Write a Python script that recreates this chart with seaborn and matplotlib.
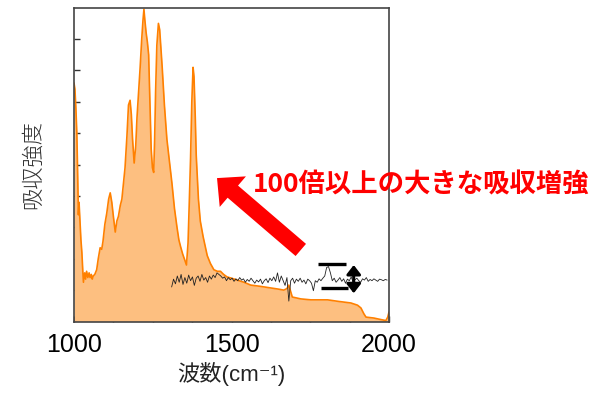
import numpy as np
import pandas as pd
import matplotlib
matplotlib.use("Agg")
import matplotlib.pyplot as plt
import seaborn as sns

# ---- data ----
spec_x = [1000, 1003, 1006, 1009, 1012, 1014, 1016, 1019, 1022, 1025, 1028, 1030,
          1034, 1037, 1040, 1044, 1048, 1051, 1055, 1058, 1061, 1066, 1072, 1077,
          1083, 1088, 1092, 1098, 1104, 1110, 1115, 1120, 1125, 1131, 1136, 1141,
          1147, 1152, 1157, 1162, 1168, 1173, 1178, 1182, 1186, 1191, 1196, 1200,
          1205, 1210, 1215, 1219, 1222, 1225, 1229, 1233, 1237, 1241, 1245, 1249,
          1253, 1256, 1259, 1263, 1268, 1272, 1276, 1280, 1287, 1295, 1303, 1311,
          1319, 1327, 1333, 1338, 1345, 1352, 1357, 1362, 1366, 1370, 1374, 1378,
          1381, 1385, 1388, 1391, 1395, 1401, 1410, 1423, 1433, 1444, 1455, 1465,
          1475, 1486, 1500, 1518, 1540, 1561, 1592, 1624, 1650, 1666, 1676, 1682,
          1688, 1693, 1720, 1752, 1780, 1805, 1840, 1879, 1900, 1911, 1920, 1927,
          1952, 1975, 1990, 1996, 2000]
spec_y = [7.6, 7.4, 6.8, 6.0, 4.5, 3.4, 3.8, 3.2, 2.6, 2.2, 1.6, 1.25,
          1.55, 1.35, 1.6, 1.4, 1.55, 1.4, 1.5, 1.35, 1.45, 1.5, 1.65, 2.0,
          2.35, 2.3, 2.55, 3.1, 3.45, 3.9, 4.1, 3.8, 3.35, 2.85, 3.2, 3.35,
          3.7, 3.9, 4.4, 4.9, 5.9, 6.9, 7.05, 6.6, 5.8, 5.05, 5.6, 6.5,
          7.3, 8.1, 9.0, 9.6, 9.95, 9.6, 9.2, 8.9, 8.5, 7.0, 5.5, 4.9,
          4.75, 5.8, 7.3, 8.8, 9.5, 9.3, 8.7, 8.1, 6.9, 5.8, 5.1, 4.4,
          3.6, 3.0, 2.6, 2.4, 2.15, 1.95, 1.8, 2.5, 3.8, 5.2, 7.0, 8.1,
          7.8, 6.5, 5.3, 4.7, 3.9, 3.2, 2.7, 2.1, 1.85, 1.65, 1.6, 1.6,
          1.5, 1.42, 1.38, 1.32, 1.25, 1.16, 1.12, 1.07, 1.03, 1.0, 1.05, 1.16,
          0.95, 0.78, 0.72, 0.69, 0.69, 0.69, 0.64, 0.59, 0.52, 0.43, 0.25, 0.14,
          0.11, 0.06, 0.03, 0.14, 0.3]

noise_start = 1310
noise_step = 6
noise_y = [1.10, 1.35, 1.20, 1.45, 1.25, 1.50, 1.18, 1.40, 1.22, 1.48, 1.30, 1.42, 1.15,
           1.38, 1.45, 1.28, 1.50, 1.32, 1.40, 1.25, 1.45, 1.35, 1.48, 1.40, 1.55, 1.50,
           1.45, 1.38, 1.42, 1.30, 1.40, 1.33, 1.38, 1.28, 1.36, 1.30, 1.40, 1.32, 1.36,
           1.25, 1.34, 1.28, 1.38, 1.30, 1.22, 1.32, 1.26, 1.35, 1.20, 1.30, 1.36, 1.24,
           1.38, 1.30, 1.42, 1.28,
           1.55, 1.25, 1.45, 1.30, 1.15, 1.40, 0.65, 1.30, 1.38, 1.22,
           1.35, 1.28, 1.38, 1.25, 1.32, 1.20, 1.35, 1.30, 1.22, 0.98, 1.30, 1.25, 1.36,
           1.30, 1.38,
           1.45, 1.72, 1.75, 1.55, 1.30, 1.38, 1.25,
           1.32, 1.40, 1.28, 1.36, 1.22, 1.35, 1.30, 1.42, 1.26, 1.33, 1.38, 1.30, 1.25,
           1.36, 1.32, 1.40, 1.28, 1.34, 1.30, 1.36, 1.32, 1.28, 1.35, 1.33, 1.30, 1.34,
           1.32]
noise_x = [noise_start + i * noise_step for i in range(len(noise_y))]

xtick_labels = [1000, 1500, 2000]
xlabel = "波数(cm⁻¹)"
ylabel = "吸収強度"
annot_text = "100倍以上の大きな吸収増強"

# ---- style ----
sns.set_style("white")
plt.rcParams['font.family'] = ['Liberation Sans', 'Noto Sans CJK JP', 'DejaVu Sans']

fig = plt.figure(figsize=(6.0, 3.97), dpi=100)
ax = fig.add_axes([74/600, 1 - 321.5/397, (389-74)/600, (321.5-7.7)/397])

spec = pd.DataFrame({"x": spec_x, "y": spec_y})
noise = pd.DataFrame({"x": noise_x, "y": noise_y})

ax.fill_between(spec["x"], 0, spec["y"], color="#FDBF80", linewidth=0, zorder=1)
sns.lineplot(data=spec, x="x", y="y", ax=ax, color="#FF8000", linewidth=1.2, zorder=2)
sns.lineplot(data=noise, x="x", y="y", ax=ax, color="#222222", linewidth=0.6, zorder=3)

ax.set_xlim(1000, 2000)
ax.set_ylim(0, 10)
ax.set_xticks(xtick_labels)
ax.set_xticklabels([str(v) for v in xtick_labels])
ax.set_xticks(np.arange(1000, 2001, 125), minor=True)
ax.set_yticks(np.arange(1, 10))
ax.set_yticklabels([])
ax.tick_params(axis='x', which='both', direction='in', length=4, width=1,
               labelsize=18, pad=8, colors='#333333', labelcolor='black', bottom=True)
ax.tick_params(axis='y', direction='in', length=4, width=1, left=True, colors='#333333')
for s in ax.spines.values():
    s.set_color('#444444')
    s.set_linewidth(1.2)

ax.set_xlabel(xlabel, fontsize=16, color='#222222', labelpad=4,
              family=['Liberation Sans', 'Noto Sans CJK JP', 'DejaVu Sans'])
ax.set_ylabel(ylabel, fontsize=16, color='#333333', labelpad=18,
              family=['Noto Sans CJK JP'], fontweight='light')

# bracket marking the noise peak
ax.plot([1774, 1863], [1.82, 1.82], color='black', linewidth=2.4, solid_capstyle='butt', zorder=4)
ax.plot([1783, 1869], [1.06, 1.06], color='black', linewidth=2.4, solid_capstyle='butt', zorder=4)
ax.annotate("", xy=(1888, 0.90), xytext=(1888, 1.80),
            arrowprops=dict(arrowstyle="<|-|>,head_width=0.35,head_length=0.45",
                            color='black', lw=2.2, shrinkA=0, shrinkB=0,
                            mutation_scale=12), zorder=5)

# big red arrow
ax.annotate("", xy=(1454, 4.57), xytext=(1720, 2.28),
            arrowprops=dict(arrowstyle="simple,head_width=2.9,head_length=1.5,tail_width=1.15",
                            color='#FF0000', lw=0, shrinkA=0, shrinkB=0,
                            mutation_scale=10), zorder=5)

fig.text(253/600, 1 - 185/397, annot_text, ha='left', va='center', fontsize=19,
         fontweight='bold', color='#FF0000', family=['Noto Sans CJK JP'])

fig.savefig("out.png", dpi=100)
